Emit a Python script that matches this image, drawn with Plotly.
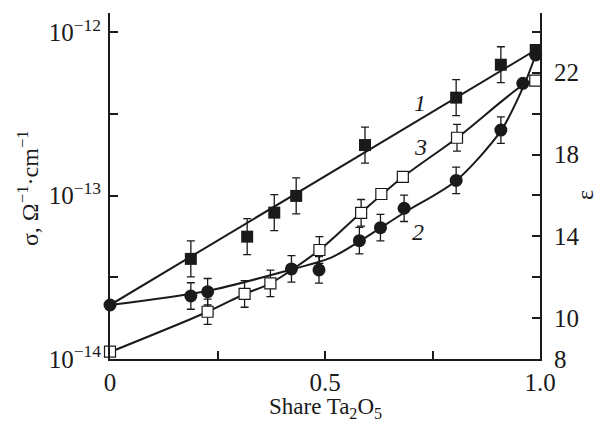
import plotly.graph_objects as go
import numpy as np

FONT = "Liberation Serif"
INK = "#1a1a1a"

# ---- data ----
# Series 1: filled squares (sigma)
s1_x = [0.188, 0.319, 0.382, 0.433, 0.593, 0.805, 0.909, 0.99]
s1_y = [4.10e-14, 5.61e-14, 7.87e-14, 9.96e-14, 2.04e-13, 3.98e-13, 6.33e-13, 7.79e-13]
s1_err_dec = [0.11, 0.11, 0.11, 0.11, 0.11, 0.11, 0.11, 0.0]

# Series 2: filled circles (sigma)
s2_x = [0.0, 0.188, 0.227, 0.422, 0.486, 0.580, 0.629, 0.684, 0.805, 0.909, 0.960, 0.99]
s2_y = [2.14e-14, 2.43e-14, 2.58e-14, 3.56e-14, 3.51e-14, 5.30e-14, 6.37e-14, 8.37e-14,
        1.24e-13, 2.52e-13, 4.87e-13, 7.26e-13]
s2_err_dec = [0.0, 0.081, 0.081, 0.081, 0.081, 0.081, 0.081, 0.081, 0.081, 0.081, 0.0, 0.0]

# Series 3: open squares (epsilon, right axis)
s3_x = [0.0, 0.227, 0.313, 0.373, 0.487, 0.584, 0.631, 0.681, 0.807, 0.989]
s3_y = [8.36, 10.31, 11.18, 11.70, 13.33, 15.15, 16.07, 16.91, 18.82, 21.61]
s3_err = [0.0, 0.62, 0.65, 0.65, 0.65, 0.65, 0.0, 0.0, 0.65, 0.0]

# Fitted curves (nodes)
c1_x = [0.0, 0.99]
c1_y = [2.14e-14, 7.79e-13]
c2_x = [0.0, 0.226, 0.422, 0.513, 0.580, 0.683, 0.804, 0.909, 0.960, 0.99]
c2_y = [2.14e-14, 2.61e-14, 3.53e-14, 4.16e-14, 5.25e-14, 7.83e-14, 1.23e-13, 2.49e-13, 4.56e-13, 7.26e-13]
c3_x = [0.0, 0.226, 0.313, 0.373, 0.487, 0.583, 0.681, 0.807, 0.961, 0.989]
c3_y = [8.34, 10.30, 11.18, 11.70, 13.33, 15.14, 16.90, 18.81, 21.40, 21.61]

# Axis ticks
x_tickvals = [0, 0.25, 0.5, 0.75, 1.0]
x_ticktext = ["0", "", "0.5", "", "1.0"]
y_tickvals = [1e-14, 10 ** -13.5, 1e-13, 10 ** -12.5, 1e-12]
y_ticktext = ["10<sup>\u221214</sup>", "", "10<sup>\u221213</sup>", "", "10<sup>\u221212</sup>"]
y2_tickvals = [8, 10, 12, 14, 16, 18, 20, 22, 24]
y2_ticktext = ["8", "10", "", "14", "", "18", "", "22", ""]
curve_labels = ["1", "3", "2"]

# ---- figure ----
def log_err(vals, dec):
    v = np.array(vals)
    d = np.array(dec)
    return v * (10 ** d - 1), v * (1 - 10 ** (-d))

fig = go.Figure()
line_style = dict(color=INK, width=2)
fig.add_trace(go.Scatter(x=c1_x, y=c1_y, mode="lines", line=line_style, hoverinfo="skip"))
fig.add_trace(go.Scatter(x=c2_x, y=c2_y, mode="lines", line=dict(line_style, shape="spline", smoothing=0.8), hoverinfo="skip"))
fig.add_trace(go.Scatter(x=c3_x, y=c3_y, mode="lines", yaxis="y2", line=dict(line_style, shape="spline", smoothing=0.8), hoverinfo="skip"))

up1, lo1 = log_err(s1_y, s1_err_dec)
fig.add_trace(go.Scatter(x=s1_x, y=s1_y, mode="markers", cliponaxis=False,
                         marker=dict(symbol="square", size=12, color=INK),
                         error_y=dict(type="data", array=up1, arrayminus=lo1, color=INK, thickness=1.3, width=4)))
up2, lo2 = log_err(s2_y, s2_err_dec)
fig.add_trace(go.Scatter(x=s2_x, y=s2_y, mode="markers", cliponaxis=False,
                         marker=dict(symbol="circle", size=13, color=INK),
                         error_y=dict(type="data", array=up2, arrayminus=lo2, color=INK, thickness=1.3, width=4)))
fig.add_trace(go.Scatter(x=s3_x, y=s3_y, mode="markers", yaxis="y2", cliponaxis=False,
                         marker=dict(symbol="square", size=11, color="white", line=dict(color=INK, width=1.2)),
                         error_y=dict(type="data", array=s3_err, color=INK, thickness=1.3, width=4)))

tickfont = dict(family=FONT, size=25, color=INK)
fig.update_layout(
    width=600, height=424,
    margin=dict(l=110, r=60, t=13, b=65),
    paper_bgcolor="white", plot_bgcolor="white",
    showlegend=False,
    font=dict(family=FONT, color=INK),
    xaxis=dict(range=[0, 1.0], tickvals=x_tickvals, ticktext=x_ticktext, ticks="inside",
               ticklen=8, tickwidth=1.5, tickcolor=INK, showline=True, linecolor=INK, linewidth=2,
               showgrid=False, zeroline=False, tickfont=tickfont, ticklabelstandoff=0),
    yaxis=dict(type="log", range=[-14, -11.882], tickvals=y_tickvals, ticktext=y_ticktext,
               ticks="inside", ticklen=8, tickwidth=1.5, tickcolor=INK, showline=True,
               linecolor=INK, linewidth=2, showgrid=False, zeroline=False, tickfont=tickfont,
               ticklabelstandoff=2),
    yaxis2=dict(overlaying="y", side="right", anchor="x", range=[8, 24.92],
                tickvals=y2_tickvals, ticktext=y2_ticktext, ticks="inside", ticklen=8, tickwidth=1.5,
                tickcolor=INK, showline=True, linecolor=INK, linewidth=2, showgrid=False,
                zeroline=False, tickfont=tickfont, ticklabelstandoff=7),
)

ann_font = dict(family=FONT, size=24, color=INK)
def ann(x, y, text, angle=0, size=24):
    fig.add_annotation(xref="paper", yref="paper", x=x, y=y, text=text, textangle=angle,
                       showarrow=False, xanchor="center", yanchor="middle",
                       font=dict(family=FONT, size=size, color=INK))

ann(-0.1907, 0.494, "\u03c3, \u03a9<sup>\u22121</sup>\u00b7cm<sup>\u22121</sup>", -90)
ann(1.1047, 0.474, "\u03b5", -90)
ann(0.5, -0.141, "Share Ta<sub>2</sub>O<sub>5</sub>", size=23)
label_pos = [(0.721, 0.740), (0.721, 0.613), (0.717, 0.367)]
for t, (px, py) in zip(curve_labels, label_pos):
    ann(px, py, "<i>" + t + "</i>")

fig.write_html("out.html")
